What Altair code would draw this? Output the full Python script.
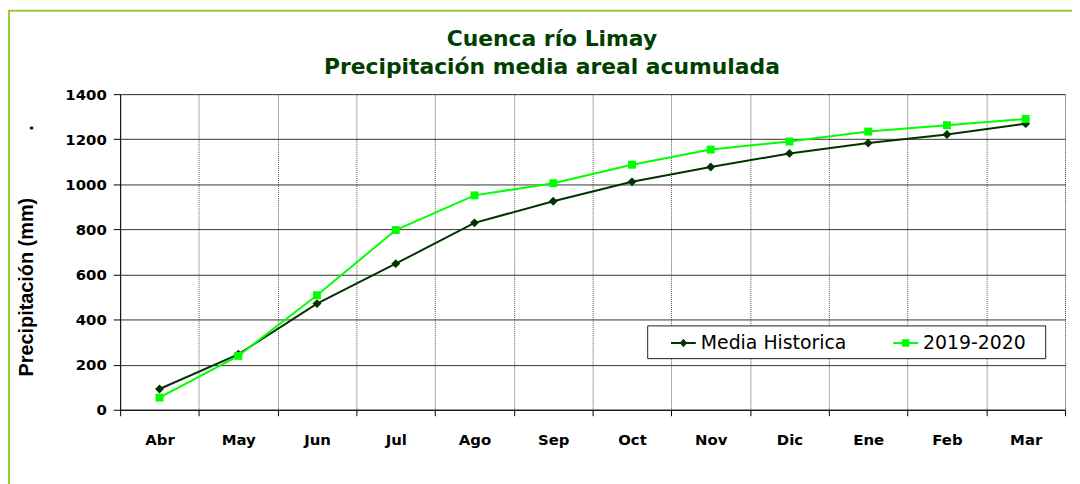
import altair as alt
import pandas as pd

# ---- data ----
months = ["Abr", "May", "Jun", "Jul", "Ago", "Sep", "Oct", "Nov", "Dic", "Ene", "Feb", "Mar"]
media_historica = [92, 246, 471, 648, 829, 925, 1011, 1077, 1137, 1183, 1221, 1269]
temporada_2019_2020 = [54, 239, 508, 797, 951, 1005, 1087, 1154, 1190, 1234, 1262, 1290]
series_names = ["Media Historica", "2019-2020"]
series_colors = ["#003300", "#00ff00"]
y_ticks = [0, 200, 400, 600, 800, 1000, 1200, 1400]
title_lines = ["Cuenca río Limay", "Precipitación media areal acumulada"]
y_title = "Precipitación (mm)"

df = pd.DataFrame({
    "mes": months * 2,
    "valor": media_historica + temporada_2019_2020,
    "serie": [series_names[0]] * len(months) + [series_names[1]] * len(months),
})

W, H = 952, 318
FONT = "DejaVu Sans"

x_enc = alt.X(
    "mes:N", sort=months, title=None,
    scale=alt.Scale(type="band", paddingInner=0, paddingOuter=0),
    axis=alt.Axis(
        tickBand="extent", labelAngle=0, labelFont=FONT, labelFontSize=15,
        labelFontWeight="bold", labelColor="black", labelPadding=17,
        tickSize=6, tickColor="black", domainColor="black", domainWidth=1,
        grid=True, gridColor="#555555", gridDash=[1, 1], gridWidth=1,
    ),
)
y_enc = alt.Y(
    "valor:Q", title=y_title,
    scale=alt.Scale(domain=[0, 1400], nice=False),
    axis=alt.Axis(
        values=y_ticks, format="d", labelFont=FONT, labelFontSize=15, labelFontWeight="bold",
        labelColor="black", labelPadding=7, tickSize=7, tickColor="black",
        domainColor="black", grid=True, gridColor="#333333", gridWidth=1,
        titleFont="Liberation Sans", titleFontSize=20, titleFontWeight="bold",
        titleColor="black", titleX=-88, titleY=194, titleAngle=270,
        titleAlign="center", titleBaseline="alphabetic",
    ),
)

base = alt.Chart(df)

# light green outer frame of the original chart object (decoration)
frame = alt.Chart(alt.Data(values=[{"f": 1}])).mark_rect(
    fill="transparent", stroke="#99cc33", strokeWidth=2
).encode(
    x=alt.value(-112), x2=alt.value(1100), y=alt.value(-84), y2=alt.value(500)
)

# stray dot above the y-axis title in the original
stray_dot = alt.Chart(alt.Data(values=[{"f": 1}])).mark_text(
    text=".", font="Liberation Sans", fontSize=20, fontWeight="bold", color="black",
    angle=270, align="center", baseline="alphabetic",
).encode(x=alt.value(-88), y=alt.value(34))

line_hist = base.transform_filter(alt.datum.serie == series_names[0]).mark_line(
    color=series_colors[0], strokeWidth=2
).encode(x=x_enc, y=y_enc)
line_cur = base.transform_filter(alt.datum.serie == series_names[1]).mark_line(
    color=series_colors[1], strokeWidth=2
).encode(x=x_enc, y=y_enc)
pts_hist = base.transform_filter(alt.datum.serie == series_names[0]).mark_point(
    shape="diamond", filled=True, color=series_colors[0], size=80, opacity=1
).encode(x=x_enc, y=y_enc)
pts_cur = base.transform_filter(alt.datum.serie == series_names[1]).mark_point(
    shape="square", filled=True, color=series_colors[1], size=64, opacity=1
).encode(x=x_enc, y=y_enc)

# legend-only layer: line+marker symbols
legend_paths = [
    "M-1,-0.08 L1,-0.08 L1,0.08 L-1,0.08 Z M0,-0.34 L0.3,0 L0,0.34 L-0.3,0 Z",
    "M-1,-0.08 L1,-0.08 L1,0.08 L-1,0.08 Z M-0.3,-0.3 L0.3,-0.3 L0.3,0.3 L-0.3,0.3 Z M10.8,0",
]
leg = alt.Legend(
    title=".", titleOrient="left", titleOpacity=0, titleFontSize=10, titlePadding=16,
    orient="none", legendX=531, legendY=233, direction="horizontal",
    fillColor="white", strokeColor="#222222", padding=5,
    symbolSize=625, symbolStrokeWidth=0, symbolOpacity=1,
    labelFont=FONT, labelFontSize=19, labelColor="black", labelOffset=5,
    labelLimit=400, columnPadding=47,
)
legend_layer = base.transform_filter("false").mark_point(filled=True, opacity=1).encode(
    x=x_enc, y=y_enc,
    color=alt.Color("serie:N", scale=alt.Scale(domain=series_names, range=series_colors), legend=leg),
    shape=alt.Shape("serie:N", scale=alt.Scale(domain=series_names, range=legend_paths), legend=leg),
)

chart = alt.layer(frame, stray_dot, line_hist, line_cur, pts_hist, pts_cur, legend_layer).properties(
    width=W, height=H,
    title=alt.TitleParams(
        title_lines, font=FONT, fontSize=22, fontWeight="bold", color="#003f00",
        lineHeight=29, anchor="middle", dx=-41, offset=-70,
    ),
    padding={"left": 113, "top": 85, "right": 7, "bottom": 73},
    autosize=alt.AutoSizeParams(type="none"),
).configure_view(stroke="#808080", strokeWidth=1).configure(background="white")

chart.save("out.html", embed_options={"renderer": "svg", "actions": False})
